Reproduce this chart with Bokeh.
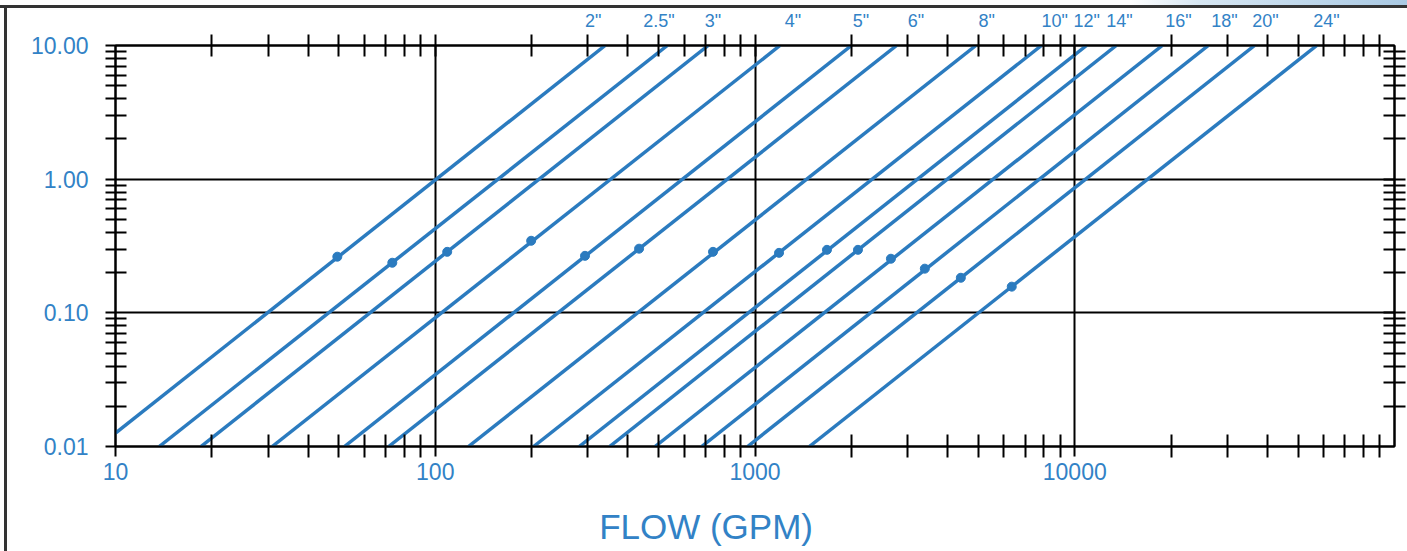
from bokeh.plotting import figure
from bokeh.models import LogAxis, FixedTicker, PrintfTickFormatter, Range1d
from bokeh.embed import file_html
from bokeh.resources import INLINE

# ---- data ----
pipe_sizes = ['2"', '2.5"', '3"', '4"', '5"', '6"', '8"', '10"', '12"', '14"',
              '16"', '18"', '20"', '24"']
# start / end points of each friction-loss line (flow GPM, loss)
flow_start = [10, 13.7, 18.5, 30.9, 52, 71.5, 127, 203, 282, 351, 487, 681, 948, 1479]
loss_start = [0.0126, 0.01, 0.01, 0.01, 0.01, 0.01, 0.01, 0.01, 0.01, 0.01,
              0.01, 0.01, 0.01, 0.01]
flow_end = [340, 532, 714, 1197, 2004, 2773, 4909, 7870, 10890, 13490, 18790,
            26170, 36520, 57150]
loss_end = [10, 10, 10, 10, 10, 10, 10, 10, 10, 10, 10, 10, 10, 10]
# marker dots on each line
dot_flow = [49.4, 73.4, 109, 199.5, 294, 434, 739, 1189, 1679, 2099, 2661, 3397,
            4403, 6353]
dot_loss = [0.263, 0.237, 0.286, 0.346, 0.267, 0.302, 0.286, 0.281, 0.296, 0.296,
            0.254, 0.214, 0.183, 0.157]
# where the pipe size labels sit along the top (GPM)
label_flow = [312, 501, 739, 1315, 2143, 3186, 5309, 8660, 10900, 13800, 21100,
              29400, 39500, 61300]

x_major = [10, 100, 1000, 10000]
x_labels = ["10", "100", "1000", "10000"]
y_major = [0.01, 0.1, 1, 10]
x_decades = [10, 100, 1000, 10000]
y_decades = [0.01, 0.1, 1]
mantissas = [2, 3, 4, 5, 6, 7, 8, 9]
x_title = "FLOW (GPM)"
x_title_at = 703  # flow value under which the axis title is centred

x_minor = [m * d for d in x_decades for m in mantissas]
y_minor = [m * d for d in y_decades for m in mantissas]

LINE_BLUE = "#2b7bbf"
TEXT_BLUE = "#3282c6"
FONT = "Liberation Sans"

p = figure(width=1407, height=551, x_axis_type="log", y_axis_type="log",
           x_range=Range1d(10, 100000), y_range=Range1d(0.01, 10),
           output_backend="svg", toolbar_location=None,
           min_border_left=115, min_border_right=13, min_border_top=45,
           min_border_bottom=105)

p.outline_line_color = "black"
p.outline_line_width = 2
p.background_fill_color = "white"
p.border_fill_color = None
# page decoration behind the transparent border: light-blue band at top right,
# dark top and left frame edges
p.styles = {
    "background-color": "white",
    "background-image": ("linear-gradient(#333333, #333333), "
                         "linear-gradient(#333333, #333333), "
                         "linear-gradient(to right, rgba(255,255,255,0) 1130px, "
                         "#d6e6f2 1200px, #a9c9e3 100%)"),
    "background-size": "100% 3px, 3px 100%, 100% 5px",
    "background-position": "0 5px, 4px 5px, 0 0",
    "background-repeat": "no-repeat",
}

# grid
p.xgrid.ticker = FixedTicker(ticks=[100, 1000, 10000])
p.ygrid.ticker = FixedTicker(ticks=[0.1, 1])
for g in (p.xgrid[0], p.ygrid[0]):
    g.grid_line_color = "black"
    g.grid_line_width = 2
    g.grid_line_alpha = 1.0


def style_ticks(ax):
    ax.axis_line_color = "black"
    ax.axis_line_width = 2
    ax.major_tick_line_color = "black"
    ax.major_tick_line_width = 2
    ax.minor_tick_line_color = "black"
    ax.minor_tick_line_width = 2
    ax.major_label_text_font = FONT
    ax.major_label_text_color = TEXT_BLUE


# bottom axis
xa = p.xaxis[0]
style_ticks(xa)
xa.ticker = FixedTicker(ticks=x_major, minor_ticks=x_minor)
xa.major_label_overrides = {t: l for t, l in zip(x_major, x_labels)}
xa.major_tick_in = 0
xa.major_tick_out = 10
xa.minor_tick_in = 12
xa.minor_tick_out = 11
xa.major_label_text_font_size = "23px"
xa.major_label_standoff = 5

# axis title as a label-only axis below the tick axis
tt = LogAxis(ticker=FixedTicker(ticks=[x_title_at], minor_ticks=[]),
             major_label_overrides={x_title_at: x_title})
tt.axis_line_color = None
tt.major_tick_line_color = None
tt.minor_tick_line_color = None
tt.major_tick_in = 0
tt.major_tick_out = 0
tt.minor_tick_in = 0
tt.minor_tick_out = 0
tt.major_label_text_font = FONT
tt.major_label_text_font_size = "35px"
tt.major_label_text_color = TEXT_BLUE
tt.major_label_standoff = 24
p.add_layout(tt, "below")

# left axis
ya = p.yaxis[0]
style_ticks(ya)
ya.ticker = FixedTicker(ticks=y_major, minor_ticks=y_minor)
ya.formatter = PrintfTickFormatter(format="%.2f")
ya.major_tick_in = 0
ya.major_tick_out = 10
ya.minor_tick_in = 11
ya.minor_tick_out = 10
ya.major_label_text_font_size = "23px"
ya.major_label_standoff = 17

# top axis with pipe size labels
ta = LogAxis(ticker=FixedTicker(ticks=label_flow, minor_ticks=x_minor + [100, 1000, 10000]),
             major_label_overrides={t: l for t, l in zip(label_flow, pipe_sizes)})
style_ticks(ta)
ta.major_tick_in = 0
ta.major_tick_out = 0
ta.minor_tick_in = 11
ta.minor_tick_out = 11
ta.major_label_text_font_size = "18px"
ta.major_label_standoff = 4
p.add_layout(ta, "above")

# right axis (ticks only)
ra = LogAxis(ticker=FixedTicker(ticks=[], minor_ticks=y_minor + [0.1, 1]))
style_ticks(ra)
ra.major_tick_in = 0
ra.major_tick_out = 0
ra.minor_tick_in = 11
ra.minor_tick_out = 11
ra.major_label_text_font_size = "0px"
ra.major_label_standoff = 0
p.add_layout(ra, "right")

# friction loss lines and dots
p.segment(x0=flow_start, y0=loss_start, x1=flow_end, y1=loss_end,
          line_color=LINE_BLUE, line_width=3.5)
p.scatter(dot_flow, dot_loss, size=9, color=LINE_BLUE)

open("out.html", "w").write(file_html(p, INLINE))
